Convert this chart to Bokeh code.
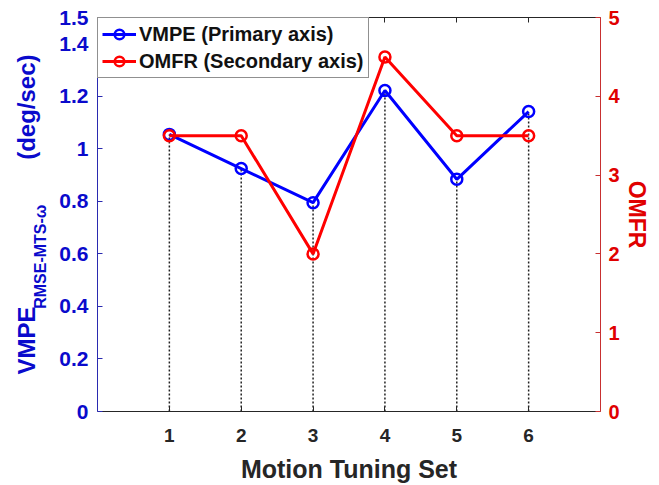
from bokeh.plotting import figure
from bokeh.models import (Range1d, LinearAxis, FixedTicker, Legend)
from bokeh.embed import file_html
from bokeh.resources import INLINE

# ---- data ----
tuning_sets = [1, 2, 3, 4, 5, 6]
vmpe = [1.055, 0.925, 0.795, 1.222, 0.884, 1.142]
omfr = [3.5, 3.5, 2.0, 4.5, 3.5, 3.5]

left_ticks = [0, 0.2, 0.4, 0.6, 0.8, 1, 1.2, 1.4, 1.5]
left_tick_labels = ["0", "0.2", "0.4", "0.6", "0.8", "1", "1.2", "1.4", "1.5"]
right_ticks = [0, 1, 2, 3, 4, 5]
x_ticks = [1, 2, 3, 4, 5, 6]

FONT = "Liberation Sans"
BLUE = "#0000ff"
BLUE_TXT = "#0a0acc"
RED = "#ff0000"
RED_TXT = "#e00000"
DARK = "#262626"
NB = "\u00a0"

p = figure(width=659, height=485, output_backend="svg", toolbar_location=None,
           x_range=Range1d(0, 7), y_range=Range1d(0, 1.5),
           min_border_left=97, min_border_right=59, min_border_top=17,
           min_border_bottom=74, x_axis_location=None, y_axis_location=None)
p.extra_y_ranges = {"omfr": Range1d(0, 5)}
p.grid.visible = False
p.outline_line_color = None
p.background_fill_color = "white"

# bottom axis
xb = LinearAxis(ticker=FixedTicker(ticks=x_ticks), axis_label="Motion Tuning Set")
xb.axis_line_color = DARK
xb.major_tick_in = 5
xb.major_tick_out = 0
xb.minor_tick_line_color = None
xb.major_tick_line_color = DARK
xb.major_label_text_font = FONT
xb.major_label_text_font_style = "bold"
xb.major_label_text_font_size = "19px"
xb.major_label_text_color = DARK
xb.major_label_standoff = 17
xb.axis_label_text_font = FONT
xb.axis_label_text_font_style = "bold"
xb.axis_label_text_font_size = "25px"
xb.axis_label_text_color = DARK
xb.axis_label_standoff = 10
p.add_layout(xb, "below")

# top axis (frame border with ticks)
xt = LinearAxis(ticker=FixedTicker(ticks=x_ticks))
xt.axis_line_color = DARK
xt.major_tick_in = 5
xt.major_tick_out = 0
xt.minor_tick_line_color = None
xt.major_tick_line_color = DARK
xt.major_label_text_font_size = "1px"
xt.major_label_text_alpha = 0
xt.major_label_standoff = 0
p.add_layout(xt, "above")

# left axis (ticks) with the subscript part of the title
yl = LinearAxis(ticker=FixedTicker(ticks=left_ticks),
                axis_label="RMSE-MTS-ω" + NB * 19)
yl.major_label_overrides = {t: s for t, s in zip(left_ticks, left_tick_labels)}
yl.axis_line_color = "#2a2ab0"
yl.major_tick_in = 5
yl.major_tick_out = 0
yl.minor_tick_line_color = None
yl.major_tick_line_color = "#2a2ab0"
yl.major_label_text_font = FONT
yl.major_label_text_font_style = "bold"
yl.major_label_text_font_size = "21px"
yl.major_label_text_color = BLUE_TXT
yl.major_label_standoff = 9
yl.axis_label_text_font = FONT
yl.axis_label_text_font_style = "bold"
yl.axis_label_text_font_size = "16px"
yl.axis_label_text_color = BLUE_TXT
yl.axis_label_standoff = 7
p.add_layout(yl, "left")

# outer left axis carrying the main part of the title
yl2 = LinearAxis(ticker=FixedTicker(ticks=[]),
                 axis_label="VMPE" + NB * 22 + "(deg/sec)")
yl2.axis_line_color = None
yl2.major_tick_line_color = None
yl2.minor_tick_line_color = None
yl2.major_tick_in = 0
yl2.major_tick_out = 0
yl2.major_label_standoff = 0
yl2.axis_label_text_font = FONT
yl2.axis_label_text_font_style = "bold"
yl2.axis_label_text_font_size = "24px"
yl2.axis_label_text_color = BLUE_TXT
yl2.axis_label_standoff = -10
p.add_layout(yl2, "left")

# right axis
yr = LinearAxis(y_range_name="omfr", ticker=FixedTicker(ticks=right_ticks), axis_label="OMFR")
yr.axis_line_color = "#c83030"
yr.major_tick_in = 5
yr.major_tick_out = 0
yr.minor_tick_line_color = None
yr.major_tick_line_color = "#c83030"
yr.major_label_text_font = FONT
yr.major_label_text_font_style = "bold"
yr.major_label_text_font_size = "20px"
yr.major_label_text_color = RED_TXT
yr.major_label_standoff = 8
yr.axis_label_text_font = FONT
yr.axis_label_text_font_style = "bold"
yr.axis_label_text_font_size = "23px"
yr.axis_label_text_color = RED_TXT
yr.axis_label_standoff = 1
p.add_layout(yr, "right")

# stems
p.segment(x0=tuning_sets, y0=[0] * len(tuning_sets), x1=tuning_sets, y1=vmpe,
          line_color="#222222", line_width=1.5, line_dash="2 2")

# series
bl = p.line(tuning_sets, vmpe, line_color=BLUE, line_width=3)
bm = p.scatter(tuning_sets, vmpe, marker="circle", size=11, line_color=BLUE,
               line_width=2.5, fill_color=None)
rl = p.line(tuning_sets, omfr, y_range_name="omfr", line_color=RED, line_width=3)
rm = p.scatter(tuning_sets, omfr, y_range_name="omfr", marker="circle", size=11,
               line_color=RED, line_width=2.5, fill_color=None)

legend = Legend(items=[("VMPE (Primary axis)", [bl, bm]),
                       ("OMFR (Secondary axis)", [rl, rm])],
                location="top_left")
legend.margin = 0
legend.padding = 4
legend.spacing = 3
legend.glyph_width = 34
legend.glyph_height = 24
legend.label_standoff = 3
legend.label_text_font = FONT
legend.label_text_font_style = "bold"
legend.label_text_font_size = "20px"
legend.label_text_color = "#111111"
legend.border_line_color = "#222222"
legend.border_line_width = 1.5
legend.background_fill_color = "white"
legend.background_fill_alpha = 1
p.add_layout(legend)

open("out.html", "w").write(file_html(p, INLINE))
